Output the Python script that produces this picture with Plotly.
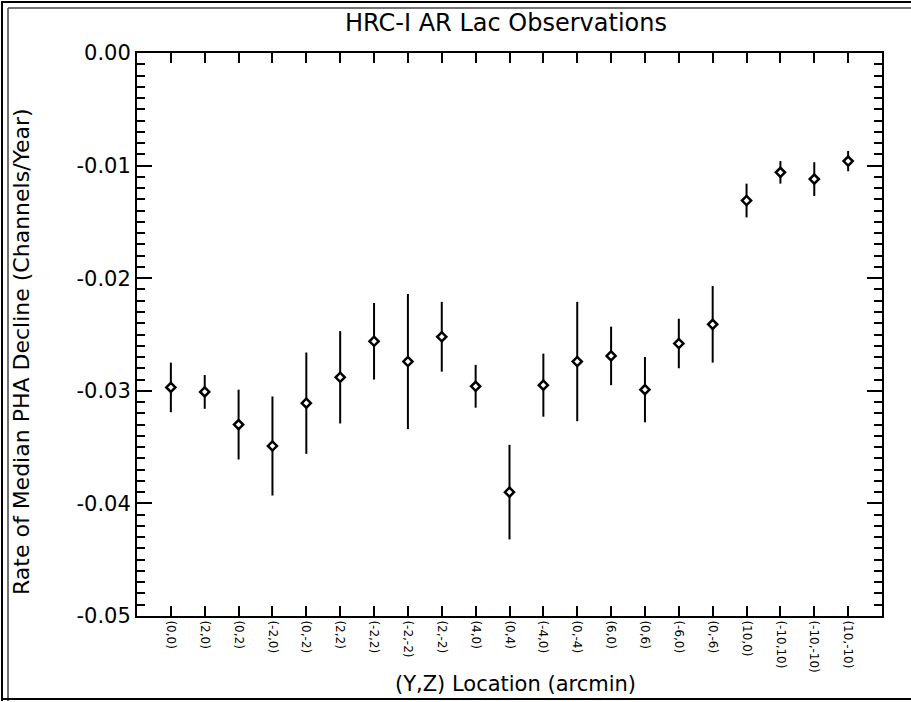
import plotly.graph_objects as go

# ---- data ----
locations = ["(0,0)", "(2,0)", "(0,2)", "(-2,0)", "(0,-2)", "(2,2)", "(-2,2)",
             "(-2,-2)", "(2,-2)", "(4,0)", "(0,4)", "(-4,0)", "(0,-4)", "(6,0)",
             "(0,6)", "(-6,0)", "(0,-6)", "(10,0)", "(-10,10)", "(-10,-10)", "(10,-10)"]
rates = [-0.0297, -0.0301, -0.0330, -0.0349, -0.0311, -0.0288, -0.0256,
         -0.0274, -0.0252, -0.0296, -0.0390, -0.0295, -0.0274, -0.0269,
         -0.0299, -0.0258, -0.0241, -0.0131, -0.0106, -0.0112, -0.0096]
errors = [0.0022, 0.0015, 0.0031, 0.0044, 0.0045, 0.0041, 0.0034,
          0.0060, 0.0031, 0.0019, 0.0042, 0.0028, 0.0053, 0.0026,
          0.0029, 0.0022, 0.0034, 0.0015, 0.0010, 0.0015, 0.0009]
y_tick_vals = [0.0, -0.01, -0.02, -0.03, -0.04, -0.05]
y_tick_text = ["0.00", "-0.01", "-0.02", "-0.03", "-0.04", "-0.05"]

positions = list(range(1, len(locations) + 1))

W, H = 911, 702
L, R, T, B = 137, 29, 53, 86
pw, ph = W - L - R, H - T - B


def px(x):
    return (x - L) / pw


def py(y):
    return (H - B - y) / ph


FONT = "DejaVu Sans"

fig = go.Figure()
fig.add_trace(go.Scatter(
    x=positions, y=rates,
    mode="markers",
    marker=dict(symbol="diamond", size=7, color="white",
                line=dict(color="black", width=2.5)),
    error_y=dict(type="data", array=errors, visible=True,
                 color="black", thickness=2, width=0),
    showlegend=False,
))

fig.update_layout(
    width=W, height=H,
    margin=dict(l=L, r=R, t=T, b=B),
    paper_bgcolor="white", plot_bgcolor="white",
    font=dict(family=FONT, color="black"),
    title=dict(text="HRC-I AR Lac Observations", x=px(506), xref="paper",
               xanchor="center", y=1 - 23 / H, yref="container", yanchor="middle",
               font=dict(size=24, family=FONT, color="black")),
    xaxis=dict(range=[0, len(locations) + 1], tickmode="array",
               tickvals=positions, ticktext=locations, tickangle=90,
               tickfont=dict(size=12, family=FONT),
               ticks="inside", ticklen=10, tickwidth=1.5, tickcolor="black",
               showline=True, linecolor="black", linewidth=2, mirror="allticks",
               showgrid=False, zeroline=False),
    yaxis=dict(range=[-0.05, 0.0], tickmode="array",
               tickvals=y_tick_vals, ticktext=y_tick_text,
               tickfont=dict(size=21, family=FONT),
               ticks="inside", ticklen=15, tickwidth=1.5, tickcolor="black",
               minor=dict(dtick=0.001, ticks="inside", ticklen=8,
                          tickwidth=1.5, tickcolor="black", showgrid=False),
               showline=True, linecolor="black", linewidth=2, mirror="allticks",
               showgrid=False, zeroline=False),
    annotations=[
        dict(text="Rate of Median PHA Decline (Channels/Year)", textangle=-90,
             x=px(21), y=py(352), xref="paper", yref="paper",
             xanchor="center", yanchor="middle", showarrow=False,
             font=dict(size=22, family=FONT, color="black")),
        dict(text="(Y,Z) Location (arcmin)",
             x=px(515), y=py(684), xref="paper", yref="paper",
             xanchor="center", yanchor="middle", showarrow=False,
             font=dict(size=21, family=FONT, color="black")),
    ],
    shapes=[
        dict(type="line", xref="paper", yref="paper", x0=px(2), x1=px(2),
             y0=py(1), y1=py(701), line=dict(color="black", width=2), layer="above"),
        dict(type="line", xref="paper", yref="paper", x0=px(8), x1=px(8),
             y0=py(8), y1=py(701), line=dict(color="#444444", width=1.5), layer="above"),
        dict(type="line", xref="paper", yref="paper", x0=px(1), x1=px(911),
             y0=py(2), y1=py(2), line=dict(color="black", width=2), layer="above"),
        dict(type="line", xref="paper", yref="paper", x0=px(8), x1=px(911),
             y0=py(8), y1=py(8), line=dict(color="#444444", width=1.5), layer="above"),
        dict(type="line", xref="paper", yref="paper", x0=px(1), x1=px(911),
             y0=py(699), y1=py(699), line=dict(color="black", width=2), layer="above"),
    ],
)

fig.write_html("out.html", config={"displayModeBar": False},
               post_script="document.body.style.margin='0';document.body.style.overflow='hidden';")
